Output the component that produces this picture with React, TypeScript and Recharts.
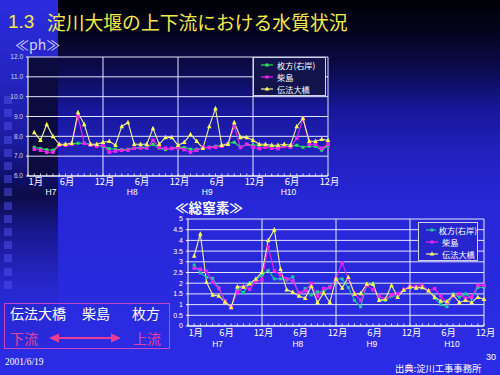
import { LineChart, Line, XAxis, YAxis, CartesianGrid, ReferenceLine } from 'recharts';

const FONT = "'Liberation Sans', 'Noto Sans CJK JP', sans-serif";
const JP = "'Noto Sans CJK JP', 'Liberation Sans', sans-serif";

const SITES = ['枚方(右岸)', '柴島', '伝法大橋'];

// pH, monthly H7.1 - H10.12
const PH_HIRAKATA = [
  7.45, 7.38, 7.33, 7.3, 7.55, 7.6, 7.62, 7.65, 7.65, 7.6, 7.55, 7.5,
  7.38, 7.35, 7.33, 7.35, 7.4, 7.45, 7.45, 7.6, 7.4, 7.33, 7.4, 7.45,
  7.43, 7.35, 7.35, 7.4, 7.45, 7.5, 7.55, 7.65, 7.7, 7.45, 7.6, 7.55,
  7.55, 7.5, 7.5, 7.45, 7.5, 7.5, 7.55, 7.45, 7.5, 7.5, 7.3, 7.55,
];
const PH_KUNIJIMA = [
  7.35, 7.3, 7.2, 7.2, 7.55, 7.55, 7.6, 9.0, 7.65, 7.55, 7.5, 7.55,
  7.2, 7.25, 7.3, 7.3, 7.4, 7.4, 7.4, 7.8, 7.45, 7.4, 7.38, 7.43,
  7.33, 7.2, 7.3, 7.45, 7.43, 7.45, 7.5, 7.6, 8.5, 7.43, 7.6, 7.45,
  7.38, 7.45, 7.4, 7.38, 7.5, 7.45, 7.9, 8.9, 7.6, 7.6, 7.4, 7.6,
];
const PH_DENPO = [
  8.2, 7.8, 8.6, 8.0, 7.6, 7.6, 7.65, 9.2, 8.6, 7.6, 7.6, 7.7,
  7.75, 7.55, 8.5, 8.7, 7.6, 7.6, 7.6, 8.4, 7.6, 7.95, 7.95, 7.55,
  7.7, 8.1, 7.75, 7.4, 8.5, 9.4, 7.55, 7.6, 8.7, 7.95, 7.95, 7.8,
  7.6, 7.6, 7.55, 7.55, 7.6, 7.55, 8.5, 8.9, 7.75, 7.75, 7.85, 7.8,
];

// total nitrogen
const TN_HIRAKATA = [
  2.85, 2.48, 2.27, 2.23, 1.78, 1.14, 0.87, 1.76, 1.56, 2.0, 2.15, 2.38,
  2.6, 2.2, 2.2, 2.15, 2.3, 1.42, 1.75, 1.45, 1.6, 1.6, 1.84, 2.2,
  2.2, 1.8, 1.2, 0.9, 1.95, 2.0, 1.2, 1.2, 1.4, 1.4, 1.7, 1.85,
  1.8, 1.8, 1.65, 1.3, 1.0, 0.9, 1.5, 1.35, 1.5, 1.3, 1.8, 1.8,
];
const TN_KUNIJIMA = [
  2.7, 2.65, 2.55, 2.05, 1.76, 1.17, 0.87, 1.6, 1.82, 1.72, 2.1, 2.15,
  3.7, 2.58, 2.4, 2.2, 2.1, 1.55, 1.65, 2.0, 1.38, 1.75, 1.8, 2.2,
  2.95, 2.2, 1.5, 1.2, 1.9, 1.7, 1.4, 1.25, 1.45, 1.5, 1.7, 1.85,
  1.85, 1.9, 1.65, 1.75, 1.4, 1.1, 1.4, 1.5, 1.3, 1.35, 1.9, 1.9,
];
const TN_DENPO = [
  3.27, 4.3, 2.05, 1.45, 1.4, 1.12, 0.87, 1.84, 1.82, 1.98, 2.2, 2.5,
  4.0, 4.5, 2.65, 1.7, 1.58, 1.4, 1.3, 1.86, 1.1, 1.55, 1.1, 2.2,
  1.78, 2.28, 1.5, 1.52, 1.97, 1.95, 1.2, 1.25, 1.9, 1.35, 1.68, 1.82,
  1.78, 1.8, 1.65, 1.35, 1.17, 1.15, 1.45, 1.1, 1.2, 1.1, 1.35, 1.25,
];

const MONTH_TICK_AT = [0, 5, 11, 17, 23, 29, 35, 41, 47];
const MONTH_TICK_LABELS = ['1月', '6月', '12月', '6月', '12月', '6月', '12月', '6月', '12月'];
const YEAR_AT = [3, 16, 28, 41];
const YEAR_LABELS = ['H7', 'H8', 'H9', 'H10'];
const YEAR_END_AT = [11, 23, 35, 47];
const ALL_MONTHS = Array.from({ length: 49 }, (_, k) => k - 1);
const PH_TICKS = [6, 7, 8, 9, 10, 11, 12];
const TN_TICKS = [0, 0.5, 1, 1.5, 2, 2.5, 3, 3.5, 4, 4.5, 5];

const buildRows = (a: number[], b: number[], c: number[]) =>
  a.map((v, i) => ({ i, hirakata: v, kunijima: b[i], denpo: c[i] }));

const PH_ROWS = buildRows(PH_HIRAKATA, PH_KUNIJIMA, PH_DENPO);
const TN_ROWS = buildRows(TN_HIRAKATA, TN_KUNIJIMA, TN_DENPO);

const MAGENTA = '#f022f0';
const YELLOW_LINE = '#f2f0a0';
const YELLOW_DOT = '#ffff48';

const squareDot = (color: string, s: number) => (p: any) => {
  if (p.cx == null || p.cy == null) return <g key={p.index} />;
  return <rect key={p.index} x={p.cx - s / 2} y={p.cy - s / 2} width={s} height={s} fill={color} />;
};
const triDot = (color: string, s: number) => (p: any) => {
  if (p.cx == null || p.cy == null) return <g key={p.index} />;
  const { cx, cy } = p;
  return (
    <polygon
      key={p.index}
      points={`${cx},${cy - s * 0.6} ${cx - s / 2},${cy + s * 0.4} ${cx + s / 2},${cy + s * 0.4}`}
      fill={color}
    />
  );
};

const makeMonthTick = (labelDy: number, yearDy: number, yearShift: number) => (p: any) => {
  const { x, y, payload } = p;
  const i = payload.value;
  const mi = MONTH_TICK_AT.indexOf(i);
  const yi = YEAR_AT.indexOf(i);
  return (
    <g>
      <line x1={x} x2={x} y1={y} y2={y - 2.5} stroke="#ffffff" strokeWidth={0.8} />
      {mi >= 0 && (
        <text x={x + 1.5} y={y + labelDy} textAnchor="middle" fill="#ffffff" fontSize={9.3} fontFamily={JP}>
          {MONTH_TICK_LABELS[mi]}
        </text>
      )}
      {yi >= 0 && (
        <text x={x + yearShift} y={y + yearDy} textAnchor="middle" fill="#ffffff" fontSize={8.5} fontFamily={FONT}>
          {YEAR_LABELS[yi]}
        </text>
      )}
    </g>
  );
};

interface PanelProps {
  rows: typeof PH_ROWS;
  width: number;
  height: number;
  margin: { top: number; right: number; bottom: number; left: number };
  yDomain: [number, number];
  yTicks: number[];
  yFmt: (v: number) => string;
  yFont: number;
  yColor: string;
  xHeight: number;
  labelDy: number;
  yearDy: number;
  yearShift: number;
  green: string;
}

const Panel = (p: PanelProps) => (
  <LineChart width={p.width} height={p.height} data={p.rows} margin={p.margin}>
    <CartesianGrid vertical={false} stroke="#e6e6ff" strokeWidth={1} />
    {YEAR_END_AT.map((x) => (
      <ReferenceLine key={x} x={x} stroke="#e6e6ff" strokeWidth={1} />
    ))}
    <XAxis
      dataKey="i"
      type="number"
      domain={[-1, 47]}
      ticks={ALL_MONTHS}
      interval={0}
      tickSize={0}
      tickMargin={0}
      tickLine={false}
      axisLine={{ stroke: '#ffffff' }}
      tick={makeMonthTick(p.labelDy, p.yearDy, p.yearShift)}
      height={p.xHeight}
    />
    <YAxis
      type="number"
      domain={p.yDomain}
      ticks={p.yTicks}
      interval={0}
      width={28}
      tickSize={2}
      tickMargin={3}
      tickFormatter={p.yFmt}
      axisLine={{ stroke: '#ffffff' }}
      tickLine={{ stroke: '#ffffff' }}
      tick={{ fill: p.yColor, fontSize: p.yFont, fontFamily: FONT }}
    />
    <Line dataKey="hirakata" stroke={p.green} strokeWidth={1.1} dot={squareDot(p.green, 3)} isAnimationActive={false} />
    <Line dataKey="kunijima" stroke={MAGENTA} strokeWidth={1.1} dot={squareDot(MAGENTA, 3.5)} isAnimationActive={false} />
    <Line dataKey="denpo" stroke={YELLOW_LINE} strokeWidth={1.1} dot={triDot(YELLOW_DOT, 4.5)} isAnimationActive={false} />
  </LineChart>
);

const LegendBox = ({ left, top, width, height, green, bg, rowGap, fontSize }: any) => {
  const colors = [green, MAGENTA, YELLOW_LINE];
  return (
    <div
      style={{
        position: 'absolute', left, top, width, height, boxSizing: 'border-box',
        border: '1px solid #d0d0e8', background: bg, padding: '1px 0 0 6px',
      }}
    >
      {SITES.map((s, k) => (
        <div
          key={s}
          style={{
            display: 'flex', alignItems: 'center', height: rowGap, lineHeight: `${rowGap}px`,
            color: '#ffffff', fontSize, fontFamily: JP, whiteSpace: 'nowrap',
          }}
        >
          <svg width={14} height={8} style={{ marginRight: 3 }}>
            <line x1={1} x2={13} y1={4} y2={4} stroke={colors[k]} strokeWidth={1.2} />
            {k < 2 ? (
              <rect x={5.5} y={2.5} width={3} height={3} fill={colors[k]} />
            ) : (
              <polygon points="7,1.5 4.7,5.5 9.3,5.5" fill={YELLOW_DOT} />
            )}
          </svg>
          <span>{s}</span>
        </div>
      ))}
    </div>
  );
};

const MAIN_BG =
  'linear-gradient(180deg, #000006 0px, #04041c 30px, #0b0b4c 68px, #17179a 110px, #2020bc 150px, #2727d6 200px, #2c2ce6 375px)';
const STRIP_BG =
  'linear-gradient(180deg, #2c2ce0 0px, #2626c8 60px, #1c1ca2 140px, #10106c 176px, #0c0c48 195px, #181890 232px, #2828d0 290px, #2c2ce6 375px)';

export default function App() {
  return (
    <div
      style={{
        position: 'absolute', left: 0, top: 0, width: 500, height: 375,
        overflow: 'hidden', background: MAIN_BG, fontFamily: FONT,
      }}
    >
      <div style={{ position: 'absolute', left: 0, top: 0, width: 58, height: 375, background: STRIP_BG }} />
      <div style={{ position: 'absolute', left: 28, top: 57, width: 30, height: 119, background: '#0b0b40' }} />
      {Array.from({ length: 15 }, (_, k) => (
        <div
          key={k}
          style={{ position: 'absolute', left: 4, top: 96 + k * 13.2, width: 8, height: 8, background: 'rgba(80,80,240,0.5)' }}
        />
      ))}

      <div style={{ position: 'absolute', left: 8, top: 8, color: '#f4ec48', fontSize: 19, fontFamily: FONT, lineHeight: '28px' }}>1.3</div>
      <div style={{ position: 'absolute', left: 47, top: 8, color: '#f4ec48', fontSize: 18.8, fontFamily: JP, lineHeight: '28px', whiteSpace: 'nowrap' }}>
        淀川大堰の上下流における水質状況
      </div>
      <div style={{ position: 'absolute', left: 15, top: 35, color: '#d4d4ff', fontSize: 14, fontFamily: JP, lineHeight: '18px' }}>≪ph≫</div>

      <div style={{ position: 'absolute', left: 0, top: 0 }}>
        <Panel
          rows={PH_ROWS}
          width={500}
          height={200}
          margin={{ top: 57, right: 172, bottom: 0, left: 0 }}
          yDomain={[6, 12]}
          yTicks={PH_TICKS}
          yFmt={(v) => v.toFixed(1)}
          yFont={6.5}
          yColor="#d8d8f0"
          xHeight={24}
          labelDy={9}
          yearDy={19}
          yearShift={-2}
          green="#2ee05a"
        />
      </div>
      <LegendBox left={253} top={57} width={73} height={39} green="#2ee05a" bg="#14144c" rowGap={12} fontSize={8.2} />

      <div style={{ position: 'absolute', left: 175, top: 198, color: '#ffffff', fontSize: 13.6, fontFamily: JP, fontWeight: 700, lineHeight: '18px' }}>≪総窒素≫</div>
      <div style={{ position: 'absolute', left: 160, top: 200 }}>
        <Panel
          rows={TN_ROWS}
          width={340}
          height={160}
          margin={{ top: 19, right: 16, bottom: 0, left: 0 }}
          yDomain={[0, 5]}
          yTicks={TN_TICKS}
          yFmt={(v) => String(v)}
          yFont={7}
          yColor="#ffffff"
          xHeight={34}
          labelDy={10}
          yearDy={21}
          yearShift={5}
          green="#22c89a"
        />
      </div>
      <LegendBox left={418} top={222} width={60} height={39} green="#22c89a" bg="#2626cc" rowGap={12} fontSize={8.2} />

      <div
        style={{
          position: 'absolute', left: 4, top: 303, width: 166, height: 46, boxSizing: 'border-box',
          border: '1px solid #c844c8',
        }}
      />
      <div style={{ position: 'absolute', left: 10, top: 304, color: '#ffffff', fontSize: 14, fontFamily: JP, lineHeight: '18px' }}>伝法大橋</div>
      <div style={{ position: 'absolute', left: 82, top: 304, color: '#ffffff', fontSize: 14, fontFamily: JP, lineHeight: '18px' }}>柴島</div>
      <div style={{ position: 'absolute', left: 132, top: 304, color: '#ffffff', fontSize: 14, fontFamily: JP, lineHeight: '18px' }}>枚方</div>
      <div style={{ position: 'absolute', left: 10, top: 329, color: '#e8409c', fontSize: 14, fontFamily: JP, lineHeight: '18px' }}>下流</div>
      <div style={{ position: 'absolute', left: 133, top: 329, color: '#e8409c', fontSize: 14, fontFamily: JP, lineHeight: '18px' }}>上流</div>
      <svg style={{ position: 'absolute', left: 48, top: 332 }} width={74} height={12}>
        <line x1={8} x2={66} y1={6} y2={6} stroke="#ee3c96" strokeWidth={2} />
        <polygon points="1,6 11,1.5 11,10.5" fill="#ee3c96" />
        <polygon points="73,6 63,1.5 63,10.5" fill="#ee3c96" />
      </svg>

      <div style={{ position: 'absolute', left: 5, top: 355, color: '#ffffff', fontSize: 9.5, fontFamily: "'Liberation Serif', serif", lineHeight: '14px' }}>2001/6/19</div>
      <div style={{ position: 'absolute', left: 395, top: 362, color: '#ffffff', fontSize: 9.3, fontFamily: JP, lineHeight: '13px', whiteSpace: 'nowrap' }}>出典:淀川工事事務所</div>
      <div style={{ position: 'absolute', left: 486, top: 352, color: '#ffffff', fontSize: 9, fontFamily: FONT, lineHeight: '11px' }}>30</div>
    </div>
  );
}
